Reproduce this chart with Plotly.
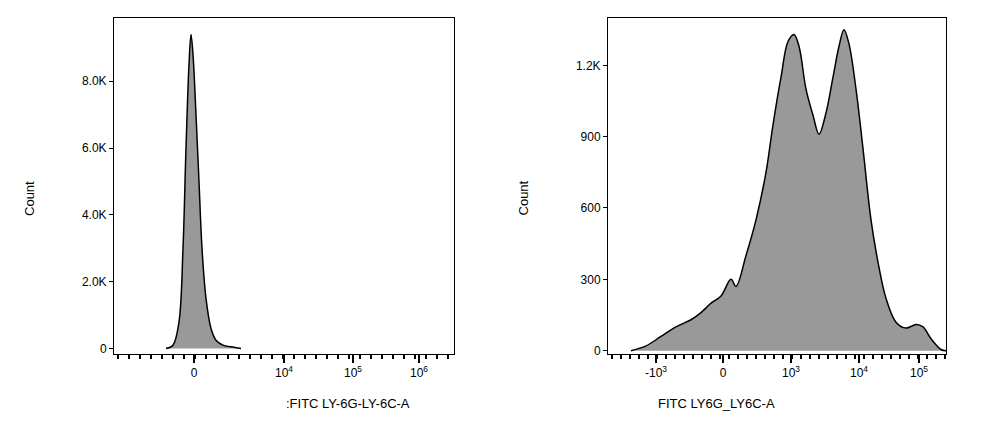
import plotly.graph_objects as go
import numpy as np

# Left histogram: display position (transformed FITC scale) vs count
l_x = [165,172,178,182,185,188,190,192,195,198,201,205,210,215,222,230,240]
l_y = [0,100,800,3000,6000,8500,9400,8800,7000,5000,3000,1500,600,250,100,50,0]
l_tickpos = [193,283,352,418]
l_ticktext = ["0","10<sup>4</sup>","10<sup>5</sup>","10<sup>6</sup>"]
l_yticks = [0,2000,4000,6000,8000]
l_yticktext = ["0","2.0K","4.0K","6.0K","8.0K"]

r_x = [630,645,660,675,690,700,710,720,730,735,745,755,765,772,780,787,793,798,805,812,818,825,832,838,843,848,855,862,870,878,885,895,905,915,922,930,940,945]
r_y = [0,20,60,100,130,160,200,230,300,270,400,550,750,950,1150,1300,1330,1280,1100,990,910,1000,1150,1280,1350,1290,1100,850,550,350,220,120,95,110,100,50,5,0]
r_tickpos = [655,722,790,858,918]
r_ticktext = ["-10<sup>3</sup>","0","10<sup>3</sup>","10<sup>4</sup>","10<sup>5</sup>"]
r_yticks = [0,300,600,900,1200]
r_yticktext = ["0","300","600","900","1.2K"]

fig = go.Figure()
fig.add_trace(go.Scatter(x=l_x, y=l_y, mode="lines", fill="tozeroy", fillcolor="#999999",
                         line=dict(color="black", width=1.5, shape="spline"), xaxis="x", yaxis="y"))
fig.add_trace(go.Scatter(x=r_x, y=r_y, mode="lines", fill="tozeroy", fillcolor="#999999",
                         line=dict(color="black", width=1.5, shape="spline"), xaxis="x2", yaxis="y2"))

def minors(lo, hi, step):
    return list(np.arange(lo, hi, step))

axcommon = dict(showgrid=False, zeroline=False, showline=True, linecolor="black", linewidth=1,
                mirror=True, ticks="outside", tickcolor="black", tickfont=dict(family="Liberation Sans", size=12, color="black"))
fig.update_layout(
    width=1000, height=447, margin=dict(l=0, r=0, t=0, b=0),
    paper_bgcolor="white", plot_bgcolor="white", showlegend=False,
    xaxis=dict(domain=[0.106,0.446], range=[113,453], tickmode="array", tickvals=l_tickpos, ticktext=l_ticktext,
               ticklen=8, tickwidth=2, anchor="y",
               minor=dict(tickmode="array", tickvals=minors(117,453,11), ticklen=4, tickcolor="black", ticks="outside"), **axcommon),
    yaxis=dict(domain=[0.22,0.978], range=[-150,9900], tickmode="array", tickvals=l_yticks, ticktext=l_yticktext,
               ticklen=4, anchor="x", **axcommon),
    xaxis2=dict(domain=[0.600,0.938], range=[607,945], tickmode="array", tickvals=r_tickpos, ticktext=r_ticktext,
                ticklen=8, tickwidth=2, anchor="y2",
                minor=dict(tickmode="array", tickvals=minors(611,945,9), ticklen=4, tickcolor="black", ticks="outside"), **axcommon),
    yaxis2=dict(domain=[0.22,0.978], range=[-12,1400], tickmode="array", tickvals=r_yticks, ticktext=r_yticktext,
                ticklen=4, anchor="x2", **axcommon),
)
f = dict(family="Liberation Sans", size=13, color="black")
fig.add_annotation(text="Count", x=0.012, y=0.57, xref="paper", yref="paper", textangle=-90, showarrow=False, font=f)
fig.add_annotation(text="Count", x=0.515, y=0.57, xref="paper", yref="paper", textangle=-90, showarrow=False, font=f)
fig.add_annotation(text=":FITC LY-6G-LY-6C-A", x=0.276, y=0.085, xref="paper", yref="paper", showarrow=False, font=f)
fig.add_annotation(text="FITC LY6G_LY6C-A", x=0.769, y=0.085, xref="paper", yref="paper", showarrow=False, font=f)
fig.write_html("out.html")
